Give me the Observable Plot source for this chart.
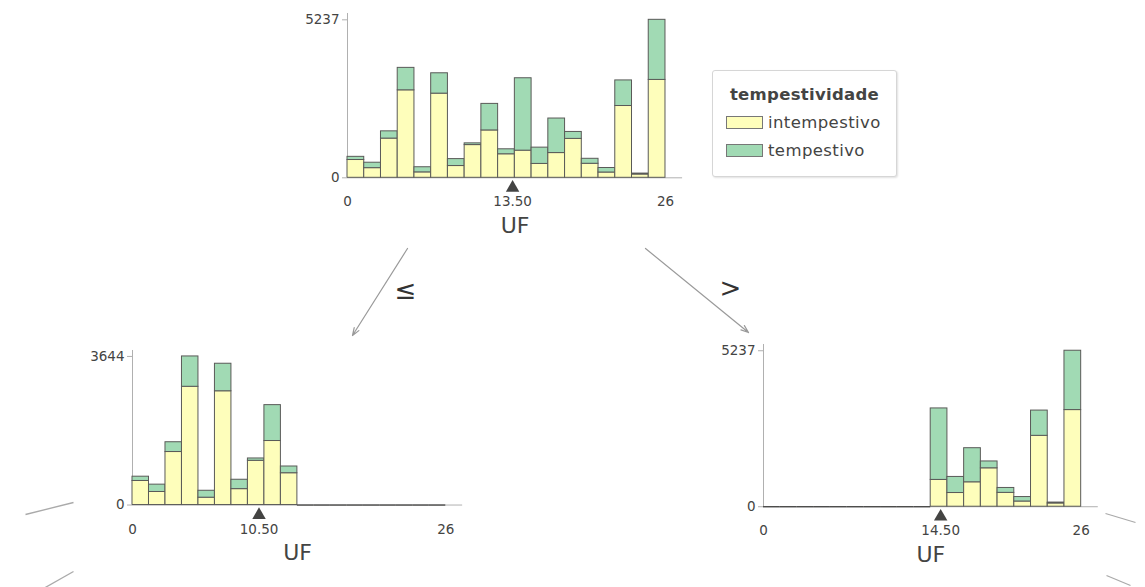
<!DOCTYPE html>
<html>
<head>
<meta charset="utf-8">
<script src="https://cdn.jsdelivr.net/npm/d3@7"></script>
<script src="https://cdn.jsdelivr.net/npm/@observablehq/plot@0.6"></script>
<style>
  html, body { margin: 0; padding: 0; background: #fff; }
  #root { position: relative; width: 1145px; height: 587px; overflow: hidden; font-family: "DejaVu Sans", sans-serif; }
  #root > .pos { position: absolute; }
  .legend { position: absolute; left: 712px; top: 70px; width: 185px; height: 107px; border: 1px solid #d6d6d6; border-radius: 3px; box-shadow: 1px 1px 2px rgba(0,0,0,0.12); background: #fff; color: #444443; box-sizing: border-box; }
  .legend .title { position: absolute; left: 0; right: 0; top: 14px; text-align: center; font-weight: bold; font-size: 16.5px; letter-spacing: 0.3px; }
  .legend .item { position: absolute; left: 13px; font-size: 16.5px; letter-spacing: 0.4px; display: flex; align-items: center; }
  .legend .sw { width: 35px; height: 11px; border: 1px solid #777; margin-right: 5px; }
</style>
</head>
<body>
<div id="root"></div>
<script>
// ---- data ----
const feature = "UF";
const classes = ["intempestivo", "tempestivo"];
const classColors = ["#FEFEBB", "#A1DAB4"];
const nBins = 19;
const uFMin = 0, uFMax = 26;
// counts per UF bin (19 bins from 0 to 26)
const intempestivo = [590, 320, 1300, 2900, 180, 2790, 390, 1085, 1570, 780, 900, 460, 820, 1290, 465, 175, 2380, 110, 3245];
const tempestivo   = [105, 180, 240, 744, 170, 675, 230, 57, 880, 165, 2400, 540, 1145, 230, 165, 150, 848, 30, 1992];
const rootSplit = 13.5, leftSplit = 10.5, rightSplit = 14.5;
const rootMax = 5237, leftMax = 3644, rightMax = 5237;
const edgeLabels = ["≤", ">"];

// ---- build ----
const binEdges = d3.range(nBins + 1).map(i => uFMin + (uFMax - uFMin) * i / nBins);
function rowsFor(keep) {
  const rows = [], empty = [];
  for (let i = 0; i < nBins; i++) {
    const x1 = binEdges[i], x2 = binEdges[i + 1];
    if (keep(x1)) {
      rows.push({x1, x2, count: intempestivo[i], cls: classes[0]});
      rows.push({x1, x2, count: tempestivo[i], cls: classes[1]});
    } else empty.push({x1, x2});
  }
  return {rows, empty};
}

const root = document.getElementById("root");
const grey = "#444443";
const xExt = 27.4;

function node({keep, split, ymax, x0, x26, y0, yTop}) {
  const {rows, empty} = rowsFor(keep);
  const innerW = (x26 - x0) * xExt / 26;
  const innerH = (y0 - yTop) * 1.04;
  const mL = 70, mR = 20, mT = 15, mB = 70;
  const chart = Plot.plot({
    width: mL + innerW + mR,
    height: mT + innerH + mB,
    marginLeft: mL, marginRight: mR, marginTop: mT, marginBottom: mB,
    x: {domain: [0, xExt]},
    y: {domain: [0, ymax * 1.04]},
    color: {domain: classes, range: classColors},
    style: {fontFamily: "DejaVu Sans", fontSize: "13.5px", color: grey, background: "transparent", overflow: "visible"},
    marks: [
      Plot.ruleX([0], {stroke: "#b0b0b0", strokeWidth: 1}),
      Plot.ruleY([0], {stroke: "#b0b0b0", strokeWidth: 1}),
      Plot.rectY(rows, {x1: "x1", x2: "x2", y: "count", fill: "cls", stroke: "#5a5a58", strokeWidth: 1}),
      Plot.ruleY(empty, {x1: "x1", x2: "x2", y: d => 0, stroke: grey, strokeWidth: 1.3}),
      Plot.axisY({ticks: [0, ymax], tickFormat: d => String(d), tickSize: 5, tickPadding: 3, label: null, stroke: "#b0b0b0", fill: grey}),
      Plot.axisX({ticks: [0, split, 26], tickFormat: d => d === split ? d.toFixed(2) : String(d), tickSize: 0, tickPadding: 19, label: null, fill: grey}),
      Plot.dot([split], {x: d => d, frameAnchor: "bottom", symbol: "triangle", r: 5, fill: grey, stroke: "none", dy: 10}),
      Plot.text([feature], {text: d => d, frameAnchor: "bottom", lineAnchor: "middle", dy: 48, fontSize: 22, fill: grey})
    ]
  });
  chart.classList.add("pos");
  chart.style.left = (x0 - mL) + "px";
  chart.style.top = (y0 - innerH - mT) + "px";
  root.appendChild(chart);
}

// edges overlay
const edges = [
  {x1: 407, y1: 248, x2: 352, y2: 335},
  {x1: 645, y1: 248, x2: 748, y2: 332}
];
const stubs = [
  {x1: 25, y1: 514, x2: 73, y2: 502},
  {x1: 43, y1: 588, x2: 73, y2: 571},
  {x1: 1105, y1: 513, x2: 1135, y2: 522},
  {x1: 1106, y1: 575, x2: 1130, y2: 585}
];
const edgeLabelPos = [{x: 405, y: 290}, {x: 730, y: 288}];

const overlay = Plot.plot({
  width: 1145, height: 587, margin: 0,
  x: {type: "identity", axis: null}, y: {type: "identity", axis: null},
  style: {background: "transparent", fontFamily: "DejaVu Sans"},
  marks: [
    Plot.arrow(edges, {x1: "x1", y1: "y1", x2: "x2", y2: "y2", stroke: "#9a9a9a", strokeWidth: 1.2, headLength: 10, headAngle: 40}),
    Plot.link(stubs, {x1: "x1", y1: "y1", x2: "x2", y2: "y2", stroke: "#aaaaaa", strokeWidth: 1.3}),
    Plot.text(edgeLabelPos, {x: "x", y: "y", text: (d, i) => edgeLabels[i], fontSize: 26, fill: "#333"})
  ]
});
overlay.classList.add("pos");
overlay.style.left = "0px"; overlay.style.top = "0px";
root.appendChild(overlay);

node({keep: x => true, split: rootSplit, ymax: rootMax, x0: 347, x26: 665, y0: 177, yTop: 19});
node({keep: x => x < rootSplit, split: leftSplit, ymax: leftMax, x0: 131.7, x26: 445, y0: 504.3, yTop: 355.7});
node({keep: x => x > rootSplit, split: rightSplit, ymax: rightMax, x0: 763.3, x26: 1081, y0: 506, yTop: 350});

// legend
const lg = document.createElement("div");
lg.className = "legend";
lg.innerHTML = `<div class="title">tempestividade</div>` + classes.map((c, i) =>
  `<div class="item" style="top:${42 + i * 28}px"><div class="sw" style="background:${classColors[i]}"></div>${c}</div>`).join("");
root.appendChild(lg);
</script>
</body>
</html>
